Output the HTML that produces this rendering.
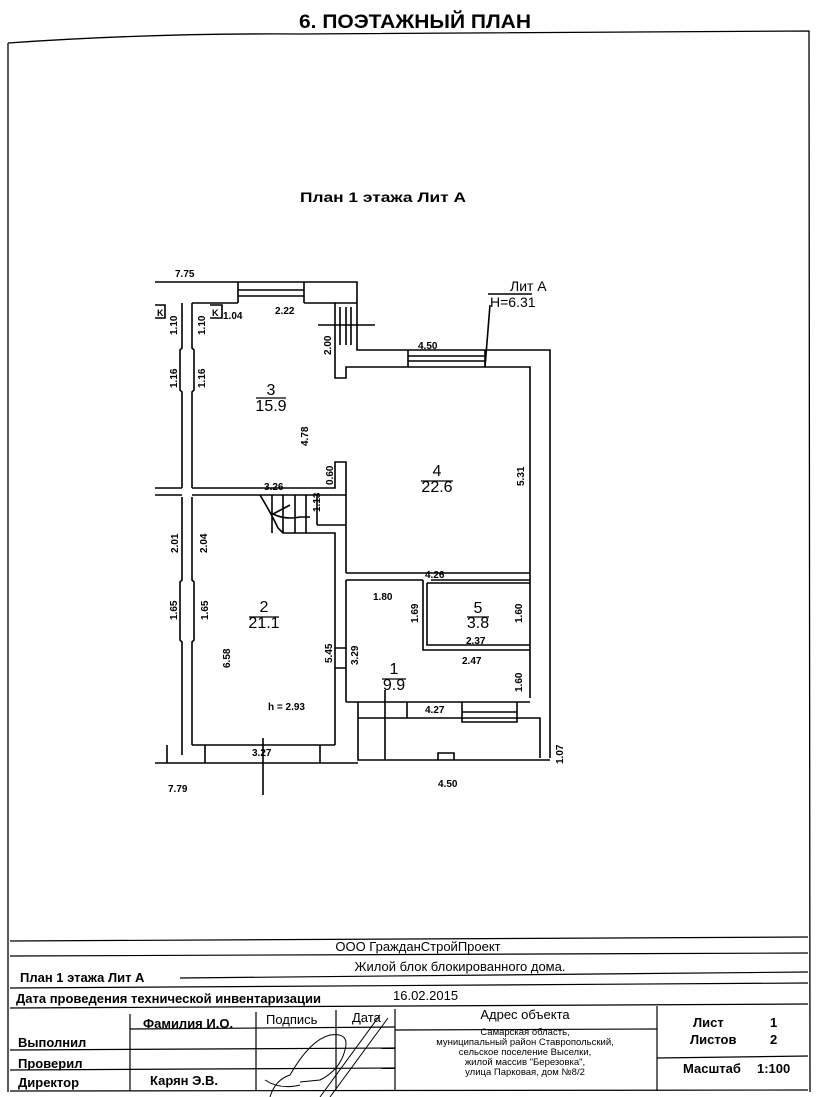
<!DOCTYPE html>
<html><head><meta charset="utf-8"><style>
html,body{margin:0;padding:0;background:#fff;}
svg{display:block;}
text{font-family:"Liberation Sans",sans-serif;fill:#000;}
.d{font-size:10px;font-weight:bold;}
.r{font-size:16px;}
</style></head><body>
<svg width="828" height="1097" viewBox="0 0 828 1097" xmlns="http://www.w3.org/2000/svg">
<rect x="0" y="0" width="828" height="1097" fill="#fff"/>
<text x="415" y="28" font-size="19" font-weight="bold" text-anchor="middle" textLength="232" lengthAdjust="spacingAndGlyphs">6. ПОЭТАЖНЫЙ ПЛАН</text>
<g fill="none" stroke="#000" stroke-width="1.3">
<path d="M8 43 Q150 33 300 34 L809 31 L810 1092"/>
<path d="M8 43 L8 1092"/>
</g>
<text x="383" y="202" font-size="14" font-weight="bold" text-anchor="middle" textLength="166" lengthAdjust="spacingAndGlyphs">План 1 этажа Лит А</text>

<g fill="none" stroke="#000" stroke-width="1.6">
<path d="M155 282 H357 V350 H550 V758"/>
<path d="M192 303 H238 M304 303 H335 V378 H346 V367 H530 V698"/>
<path d="M238 282 V303 M304 282 V303 M238 290 H304 M238 296 H304"/>
<path d="M335 303 H357 M340 307 V345 M346 307 V345 M351 307 V345 M318 325 H375"/>
<path d="M408 350 V367 M485 350 V367 M408 356 H485 M408 361 H485"/>
<path d="M485 367 L490 305 M488 294 H532"/>
<path d="M182 303 V348 L180 350 V390 L182 392 V488 M192 303 V348 L194 350 V390 L192 392 V488"/>
<path d="M182 497 V580 L180 582 V640 L182 642 V755 M192 497 V580 L194 582 V640 L192 642 V745"/>
<path d="M155 488 H182 M192 488 H335 V462 H346 V573 M155 495 H182 M192 495 H346"/>
<path d="M155 305 H165 V318 H155 M210 305 H222 V318 H210"/>
<path d="M260 495 Q272 515 278 528 L283 533 H335 V745 M272 495 V533 M283 495 V533 M295 495 V533 M306 495 V533 M317 495 V525 M317 525 H346 M273 514 L290 505 M273 514 Q285 520 300 517 L310 517"/>
<path d="M192 745 H335 M155 763 H358 M167 745 V763 M205 745 V763 M320 745 V763 M263 738 V795"/>
<path d="M346 573 H530 M346 580 H423 M431 580 H530 M346 580 V702 M346 702 H530"/>
<path d="M423 580 V650 H530 M427 583 H530 M427 583 V645 H530"/>
<path d="M346 648 H335 M346 668 H335"/>
<path d="M358 702 V718 M407 702 V718 M462 702 V722 H517 V702 M462 712 H517 M358 718 H540 V758 M358 718 V760 H550 M438 760 V753 H454 V760 M385 690 V760"/>
</g>

<g class="d">
<text x="175" y="277">7.75</text>
<text x="275" y="314">2.22</text>
<text x="223" y="319">1.04</text>
<text x="157" y="316" font-size="9">K</text>
<text x="212" y="316" font-size="9">K</text>
<text x="418" y="349">4.50</text>
<text x="264" y="490">3.26</text>
<text x="373" y="600">1.80</text>
<text x="466" y="644">2.37</text>
<text x="462" y="664">2.47</text>
<text x="425" y="713">4.27</text>
<text x="425" y="578">4.26</text>
<text x="252" y="756">3.27</text>
<text x="168" y="792">7.79</text>
<text x="438" y="787">4.50</text>
<text x="268" y="710">h = 2.93</text>
<g transform="rotate(-90)">
<text x="-335" y="177">1.10</text>
<text x="-335" y="205">1.10</text>
<text x="-388" y="177">1.16</text>
<text x="-388" y="205">1.16</text>
<text x="-355" y="331">2.00</text>
<text x="-446" y="308">4.78</text>
<text x="-485" y="333">0.60</text>
<text x="-512" y="320">1.13</text>
<text x="-486" y="524">5.31</text>
<text x="-553" y="178">2.01</text>
<text x="-553" y="207">2.04</text>
<text x="-620" y="177">1.65</text>
<text x="-620" y="208">1.65</text>
<text x="-668" y="230">6.58</text>
<text x="-663" y="332">5.45</text>
<text x="-665" y="358">3.29</text>
<text x="-623" y="418">1.69</text>
<text x="-623" y="522">1.60</text>
<text x="-692" y="522">1.60</text>
<text x="-764" y="563">1.07</text>
</g>
</g>
<text x="510" y="291" font-size="14">Лит А</text>
<text x="490" y="307" font-size="14">H=6.31</text>

<g class="r" text-anchor="middle">
<text x="271" y="395">3</text><text x="271" y="411">15.9</text>
<text x="437" y="476">4</text><text x="437" y="492">22.6</text>
<text x="264" y="612">2</text><text x="264" y="628">21.1</text>
<text x="478" y="613">5</text><text x="478" y="628">3.8</text>
<text x="394" y="674">1</text><text x="394" y="690">9.9</text>
</g>
<g stroke="#000" stroke-width="1.2">
<path d="M256 398 H286 M421 481 H453 M249 617 H279 M467 617 H489 M382 679 H406"/>
</g>

<g fill="none" stroke="#000" stroke-width="1.2">
<path d="M10 941 L808 937"/>
<path d="M10 956 L808 953"/>
<path d="M180 978 L808 972"/>
<path d="M10 988 L808 983"/>
<path d="M10 1008 L808 1004"/>
<path d="M130 1029 L395 1027"/>
<path d="M10 1050 L395 1048"/>
<path d="M10 1070 L395 1068"/>
<path d="M10 1091 L808 1090"/>
<path d="M395 1030 L657 1029"/>
<path d="M657 1058 L808 1056"/>
<path d="M130 1014 V1091 M256 1012 V1091 M336 1010 V1091 M395 1009 V1091 M657 1006 V1091"/>
</g>
<g font-size="13" font-family="Liberation Sans">
<text x="418" y="951" text-anchor="middle">ООО ГражданСтройПроект</text>
<text x="20" y="982" font-weight="bold">План 1 этажа Лит А</text>
<text x="460" y="971" text-anchor="middle">Жилой блок блокированного дома.</text>
<text x="16" y="1003" font-weight="bold">Дата проведения технической инвентаризации</text>
<text x="393" y="1000">16.02.2015</text>
<text x="143" y="1028" font-weight="bold">Фамилия И.О.</text>
<text x="266" y="1024">Подпись</text>
<text x="352" y="1022">Дата</text>
<text x="525" y="1019" text-anchor="middle">Адрес объекта</text>
<text x="18" y="1047" font-weight="bold">Выполнил</text>
<text x="18" y="1068" font-weight="bold">Проверил</text>
<text x="18" y="1087" font-weight="bold">Директор</text>
<text x="150" y="1085" font-weight="bold">Карян Э.В.</text>
<text x="693" y="1027" font-weight="bold">Лист</text><text x="770" y="1027" font-weight="bold">1</text>
<text x="690" y="1044" font-weight="bold">Листов</text><text x="770" y="1044" font-weight="bold">2</text>
<text x="683" y="1073" font-weight="bold">Масштаб</text><text x="757" y="1073" font-weight="bold">1:100</text>
</g>
<g font-size="9.5" text-anchor="middle">
<text x="525" y="1035">Самарская область,</text>
<text x="525" y="1045">муниципальный район Ставропольский,</text>
<text x="525" y="1055">сельское поселение Выселки,</text>
<text x="525" y="1065">жилой массив "Березовка",</text>
<text x="525" y="1075">улица Парковая, дом №8/2</text>
</g>
<g fill="none" stroke="#000" stroke-width="1">
<path d="M270 1097 Q275 1080 290 1075 Q310 1040 330 1035 Q350 1032 345 1050 Q340 1070 320 1080 L300 1082 M380 1015 L320 1097 M388 1018 L330 1097 M265 1080 Q280 1090 300 1085"/>
</g>
</svg>
</body></html>
